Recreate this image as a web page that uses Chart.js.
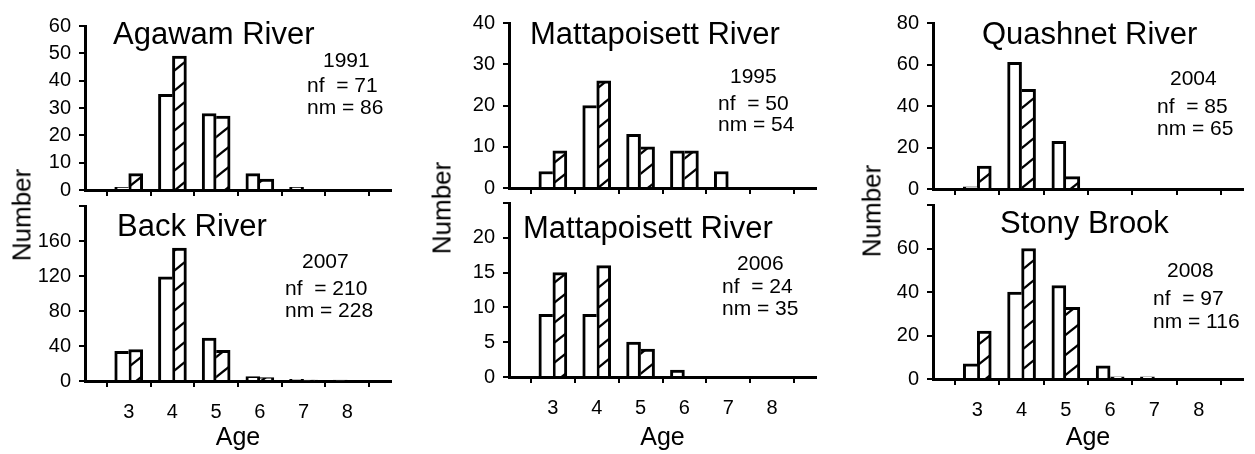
<!DOCTYPE html>
<html>
<head>
<meta charset="utf-8">
<script src="https://cdn.jsdelivr.net/npm/chart.js@4.4.0/dist/chart.umd.min.js"></script>
<style>
  body { margin: 0; background: #fff; width: 1255px; height: 454px; overflow: hidden; position: relative;
         font-family: "Liberation Sans", Arial, sans-serif; }
  canvas { position: absolute; }
  .ytitle { position: absolute; font-size: 26px; white-space: nowrap; color: #000;
            transform: translate(-50%, -50%) rotate(-90deg); }
</style>
</head>
<body>
<script>
// ages on the category axis; 2 and 9 only mark the ends of the axis
const ages = ['2', '3', '4', '5', '6', '7', '8', '9'];

// counts for ages 3..8 (female = open bars, male = hatched bars)
const agawamFemale = [1, 35, 28, 6, 1, 0];
const agawamMale   = [6, 49, 27, 4, 0, 0];
const backFemale   = [34, 119, 49, 5, 2, 1];
const backMale     = [36, 152, 35, 4, 1, 0];
const matt95Female = [4, 20, 13, 9, 4, 0];
const matt95Male   = [9, 26, 10, 9, 0, 0];
const matt06Female = [9, 9, 5, 1, 0, 0];
const matt06Male   = [15, 16, 4, 0, 0, 0];
const quashFemale  = [1, 61, 23, 0, 0, 0];
const quashMale    = [11, 48, 6, 0, 0, 0];
const stonyFemale  = [7, 40, 43, 6, 1, 0];
const stonyMale    = [22, 60, 33, 1, 0, 0];

const panelNames = ['Agawam River', 'Back River', 'Mattapoisett River', 'Mattapoisett River', 'Quashnet River', 'Stony Brook'];
const panelYears = ['1991', '2007', '1995', '2006', '2004', '2008'];
const panelNf = [71, 210, 50, 24, 85, 97];
const panelNm = [86, 228, 54, 35, 65, 116];
const yMaxes = [60, 200, 40, 25, 80, 80];
const ySteps = [10, 40, 10, 5, 20, 20];
const femaleSets = [agawamFemale, backFemale, matt95Female, matt06Female, quashFemale, stonyFemale];
const maleSets = [agawamMale, backMale, matt95Male, matt06Male, quashMale, stonyMale];

// plot area of each panel on the page (left, right, top, bottom)
const frames = [
  { x0: 85, x1: 398, y0: 20, y1: 198, row: 0 },
  { x0: 85, x1: 398, y0: 200, y1: 381, row: 1 },
  { x0: 509, x1: 823, y0: 17, y1: 196, row: 0 },
  { x0: 509, x1: 823, y0: 197, y1: 377, row: 1 },
  { x0: 933, x1: 1250, y0: 17, y1: 197, row: 0 },
  { x0: 933, x1: 1250, y0: 199, y1: 379, row: 1 }
];
// text anchors (left x, baseline y): title, year, nf, nm
const textSpots = [
  [[113, 44], [323, 67], [307, 92], [307, 114]],
  [[117, 236], [302, 268], [285, 295], [285, 317]],
  [[530, 44], [730, 83], [718, 110], [718, 131]],
  [[523, 238], [737, 270], [722, 293], [722, 315]],
  [[982, 44], [1170, 85], [1157, 113], [1157, 135]],
  [[1000, 233], [1167, 277], [1153, 305], [1153, 328]]
];
const numberTitles = [[22, 215], [442, 208], [872, 211]];

const FONT = '"Liberation Sans", Arial, sans-serif';
const BW = 3;
const PAD_T = 14, PAD_R = 6, Y_W = 80;

function hatchPattern() {
  const w = 25, h = 20;
  const c = document.createElement('canvas');
  c.width = w; c.height = h;
  const g = c.getContext('2d');
  g.fillStyle = '#fff';
  g.fillRect(0, 0, w, h);
  g.strokeStyle = '#000';
  g.lineWidth = 2.2;
  for (const k of [-1, 0, 1]) {
    g.beginPath();
    g.moveTo(-w, 2 * h + k * h);
    g.lineTo(2 * w, -h + k * h);
    g.stroke();
  }
  return g.createPattern(c, 'repeat');
}
const hatch = hatchPattern();

// the taller bar of a pair draws the shared edge, so it is not doubled
function barEdges(ctx) {
  if (ctx.type !== 'data') return BW;
  const ds = ctx.chart.data.datasets;
  const me = ds[ctx.datasetIndex].data[ctx.dataIndex] || 0;
  const other = ds[1 - ctx.datasetIndex].data[ctx.dataIndex] || 0;
  const female = ctx.datasetIndex === 0;
  const inner = (me > other || (me === other && female)) ? BW : 0;
  return female ? { top: BW, left: BW, right: inner, bottom: 0 }
                : { top: BW, left: inner, right: BW, bottom: 0 };
}

const pad = arr => [null, ...arr.map(v => v === 0 ? null : v), null];

const panelText = {
  id: 'panelText',
  afterDraw(chart, args, opts) {
    const ctx = chart.ctx;
    ctx.save();
    ctx.fillStyle = '#000';
    ctx.textBaseline = 'alphabetic';
    ctx.textAlign = 'left';
    for (const t of opts.items) {
      ctx.font = t.size + 'px ' + FONT;
      ctx.fillText(t.text, t.x - opts.ox, t.y - opts.oy);
    }
    ctx.restore();
  }
};

frames.forEach((f, i) => {
  const bottomRow = f.row === 1;
  const left = f.x0 - Y_W;
  const top = f.y0 - PAD_T;
  const width = f.x1 - f.x0 + Y_W + PAD_R;
  const height = bottomRow ? 454 - top : f.y1 + 12 - top;
  const xH = height - PAD_T - (f.y1 - f.y0);

  const cv = document.createElement('canvas');
  cv.width = width; cv.height = height;
  cv.style.left = left + 'px'; cv.style.top = top + 'px';
  document.body.appendChild(cv);

  const spots = textSpots[i];
  const items = [
    { text: panelNames[i], x: spots[0][0], y: spots[0][1], size: 31 },
    { text: panelYears[i], x: spots[1][0], y: spots[1][1], size: 21 },
    { text: 'nf  = ' + panelNf[i], x: spots[2][0], y: spots[2][1], size: 21 },
    { text: 'nm = ' + panelNm[i], x: spots[3][0], y: spots[3][1], size: 21 }
  ];
  const yMax = yMaxes[i];

  new Chart(cv, {
    type: 'bar',
    data: {
      labels: ages,
      datasets: [
        { label: 'Female', data: pad(femaleSets[i]), backgroundColor: '#fff', borderColor: '#000',
          borderWidth: barEdges, borderSkipped: false, barThickness: 14 },
        { label: 'Male', data: pad(maleSets[i]), backgroundColor: hatch, borderColor: '#000',
          borderWidth: barEdges, borderSkipped: false, barThickness: 14 }
      ]
    },
    options: {
      responsive: false,
      animation: false,
      layout: { padding: { top: PAD_T, right: PAD_R, left: 0, bottom: 0 }, autoPadding: false },
      plugins: {
        legend: { display: false },
        tooltip: { enabled: false },
        panelText: { items, ox: left, oy: top }
      },
      scales: {
        x: {
          offset: false,
          grid: { display: true, drawOnChartArea: false, drawTicks: true, tickLength: 6, color: '#000', lineWidth: 2 },
          border: { display: true, color: '#000', width: 3 },
          ticks: {
            autoSkip: false, maxRotation: 0, padding: 13, color: '#000',
            font: { family: FONT, size: 20 },
            callback: (v, k) => (bottomRow && k > 0 && k < ages.length - 1) ? ages[k] : ''
          },
          title: {
            display: bottomRow, text: 'Age', color: '#000',
            font: { family: FONT, size: 25 }, padding: { top: 0, bottom: 1 }
          },
          afterFit: s => { s.height = xH; }
        },
        y: {
          min: 0, max: yMax,
          grid: { display: true, drawOnChartArea: false, drawTicks: true, tickLength: 6, color: '#000', lineWidth: 2 },
          border: { display: true, color: '#000', width: 3 },
          ticks: {
            stepSize: ySteps[i], padding: 8, color: '#000',
            font: { family: FONT, size: 20 },
            callback: v => (bottomRow && v === yMax) ? '' : v
          },
          afterFit: s => { s.width = Y_W; }
        }
      }
    },
    plugins: [panelText]
  });
});

numberTitles.forEach(([x, y]) => {
  const d = document.createElement('div');
  d.className = 'ytitle';
  d.textContent = 'Number';
  d.style.left = x + 'px';
  d.style.top = y + 'px';
  document.body.appendChild(d);
});
</script>
</body>
</html>
